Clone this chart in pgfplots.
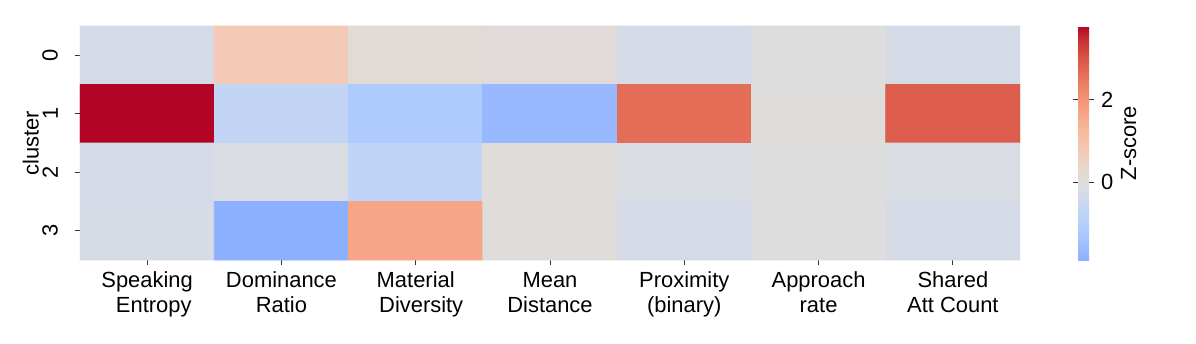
\documentclass[border=0pt]{standalone}
\usepackage{fontspec}
\setmainfont{Liberation Sans}
\usepackage{pgfplots}
\pgfplotsset{compat=1.18}

% coolwarm, upper part only (seaborn center=0 clips the blue end)
\pgfplotsset{colormap={coolwarmc}{
  rgb255(0pt)=(141,176,254); rgb255(1pt)=(152,185,255); rgb255(2pt)=(163,194,255);
  rgb255(3pt)=(174,201,253); rgb255(4pt)=(184,208,249); rgb255(5pt)=(194,213,244);
  rgb255(6pt)=(204,217,238); rgb255(7pt)=(213,219,230); rgb255(8pt)=(221,221,221);
  rgb255(9pt)=(229,216,209); rgb255(10pt)=(236,211,197); rgb255(11pt)=(241,204,185);
  rgb255(12pt)=(245,196,173); rgb255(13pt)=(247,187,160); rgb255(14pt)=(247,177,148);
  rgb255(15pt)=(247,166,135); rgb255(16pt)=(244,154,123); rgb255(17pt)=(241,141,111);
  rgb255(18pt)=(236,127,99); rgb255(19pt)=(229,112,88); rgb255(20pt)=(222,96,77);
  rgb255(21pt)=(213,80,66); rgb255(22pt)=(203,62,56); rgb255(23pt)=(192,40,47);
  rgb255(24pt)=(180,4,38)}}

\newcommand{\lblfont}{\fontsize{11}{12.5}\selectfont}

% x = feature, y = 3 - cluster, c = z-score
\pgfplotstableread{
x y c
0 3 -0.24
1 3 0.78
2 3 0.16
3 3 0.09
4 3 -0.24
5 3 0.00
6 3 -0.24
0 2 3.78
1 2 -0.71
2 2 -1.16
3 2 -1.65
4 2 2.65
5 2 0.02
6 2 2.88
0 1 -0.24
1 1 -0.12
2 1 -0.81
3 1 0.06
4 1 -0.12
5 1 0.00
6 1 -0.12
0 0 -0.20
1 0 -1.89
2 0 1.67
3 0 0.06
4 0 -0.24
5 0 0.00
6 0 -0.24
}\heat

\begin{document}
\begin{tikzpicture}
\begin{axis}[
    scale only axis,
    width=470bp, height=117bp,
    xmin=-0.5, xmax=6.5, ymin=-0.5, ymax=3.5,
    axis line style={draw=none},
    colormap name=coolwarmc,
    point meta min=-1.89, point meta max=3.78,
    xtick={0,...,6},
    xticklabels={{Speaking\\\hspace*{0.6em}Entropy},{Dominance\\Ratio},{Material\\\hspace*{0.5em}Diversity},
      {Mean\\Distance},{Proximity\\(binary)},{Approach\\rate},{Shared\\Att Count}},
    ytick={0,1,2,3},
    yticklabels={3,2,1,0},
    xtick pos=left, ytick pos=left,
    tick align=outside,
    major tick length=2.5bp,
    tick style={black!80, line width=0.5pt},
    xticklabel style={align=center, font=\lblfont},
    yticklabel style={rotate=90, anchor=south, font=\lblfont},
    yticklabel shift=5bp,
    ylabel={cluster},
    ylabel style={font=\lblfont},
    ylabel shift=-5bp,
    /pgf/number format/assume math mode=true,
    colorbar,
    colorbar style={
        at={(parent axis.north east)}, anchor=north west, xshift=20.5bp,
        width=5.5bp,
        axis line style={draw=none},
        ytick={0,2},
        tick align=outside,
        major tick length=2.5bp,
        tick style={black!80, line width=0.5pt},
        yticklabel style={font=\lblfont},
        ylabel={Z-score},
        ylabel style={font=\lblfont},
        ylabel shift=-3bp,
        /pgf/number format/assume math mode=true,
    },
]
\addplot[matrix plot*, mesh/cols=7, point meta=explicit, shader=flat corner]
  table[x=x, y=y, meta=c] {\heat};
\coordinate (sw) at (rel axis cs:0,0);
\coordinate (ne) at (rel axis cs:1,1);
\end{axis}
\path ([shift={(-40bp,-41.5bp)}]sw) rectangle ([shift={(88bp,13bp)}]ne);
\end{tikzpicture}
\end{document}
